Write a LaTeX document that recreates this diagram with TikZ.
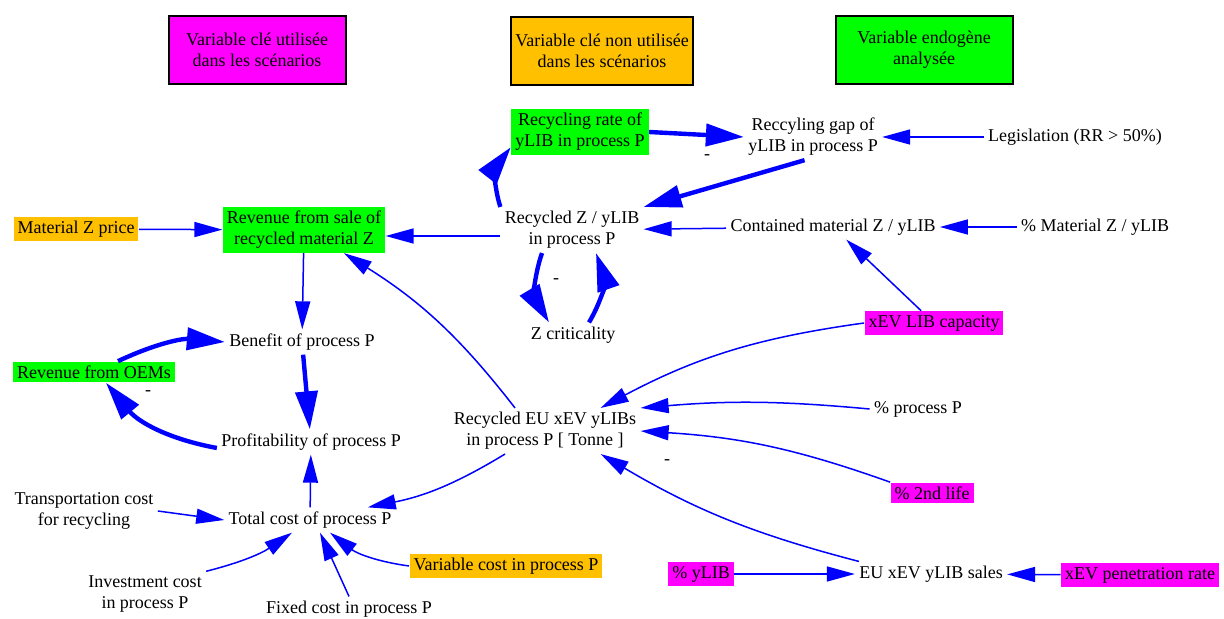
\documentclass[tikz,border=0pt]{standalone}
\usepackage{fontspec}
\setmainfont{Liberation Serif}
\usepackage{tikz}
\usetikzlibrary{arrows.meta}
\definecolor{keymag}{RGB}{255,0,255}
\definecolor{keyorange}{RGB}{255,192,0}
\definecolor{endogreen}{RGB}{0,255,0}
\definecolor{linkblue}{RGB}{0,0,255}

\begin{document}
\begin{tikzpicture}[x=0.5pt, y=-0.5pt,
    var/.style={font=\fontsize{9}{10.5}\selectfont, align=center, inner sep=2pt},
    keyvar/.style={var, fill=keymag},
    unusedvar/.style={var, fill=keyorange},
    endovar/.style={var, fill=endogreen},
    legendbox/.style={var, draw=black, line width=1pt, minimum width=88.5pt, minimum height=34pt},
    sign/.style={font=\fontsize{9}{10.5}\selectfont, inner sep=0pt},
    link/.style={-{Triangle[length=14pt, width=7.5pt]}, linkblue, line width=0.75pt},
    looplink/.style={-{Triangle[length=19pt, width=11pt]}, linkblue, line width=2.2pt}]
    \useasboundingbox (0,0) rectangle (1224,619);

    % Legend
    \node[legendbox, fill=keymag] (keyused) at (257,50) {Variable clé utilisée\\dans les scénarios};
    \node[legendbox, fill=keyorange] (keyunused) at (602,51) {Variable clé non utilisée\\dans les scénarios};
    \node[legendbox, fill=endogreen] (keyendo) at (924,50) {Variable endogène\\analysée};

    % Variables
    \node[endovar] (rate) at (580,132) {Recycling rate of\\yLIB in process P};
    \node[var] (gap) at (813,137) {Reccyling gap of\\yLIB in process P};
    \node[var] (legis) at (1075,137) {Legislation (RR > 50\%)};
    \node[var] (recZ) at (572,230) {Recycled Z / yLIB\\in process P};
    \node[var] (contained) at (833,227) {Contained material Z / yLIB};
    \node[var] (pctMat) at (1095,227) {\% Material Z / yLIB};
    \node[unusedvar] (price) at (76,229) {Material Z price};
    \node[endovar] (revSale) at (304,230) {Revenue from sale of\\recycled material Z};
    \node[var] (zcrit) at (573,335) {Z criticality};
    \node[keyvar] (capacity) at (934,323) {xEV LIB capacity};
    \node[var] (benefit) at (302,342) {Benefit of process P};
    \node[endovar] (oem) at (94,372) {Revenue from OEMs};
    \node[var] (profit) at (311,442) {Profitability of process P};
    \node[var] (recEU) at (545,431) {Recycled EU xEV yLIBs\\in process P [ Tonne ]};
    \node[var] (pctP) at (918,409) {\% process P};
    \node[keyvar] (second) at (932,493) {\% 2nd life};
    \node[var] (trans) at (84,511) {Transportation cost\\for recycling};
    \node[var] (total) at (310,520) {Total cost of process P};
    \node[unusedvar] (varcost) at (506,566) {Variable cost in process P};
    \node[var] (invest) at (145,594) {Investment cost\\in process P};
    \node[var] (fixed) at (349,609) {Fixed cost in process P};
    \node[keyvar] (pctY) at (701,574) {\% yLIB};
    \node[var] (sales) at (931,574) {EU xEV yLIB sales};
    \node[keyvar] (penet) at (1140,575) {xEV penetration rate};

    % Polarity marks
    \node[sign] (sgap) at (707,157) {-};
    \node[sign] (scrit) at (556,281) {-};
    \node[sign] (soem) at (148,393) {-};
    \node[sign] (ssecond) at (667,462) {-};

    % Loops (thick)
    \draw[looplink] (rate.east) -- (gap.west);
    \draw[looplink] (gap.250) -- (recZ.north east);
    \draw[looplink] (recZ.north west) to[bend left=28] ([yshift=4pt]rate.south west);
    \draw[looplink] ([xshift=-15pt]recZ.south) to[bend right=25] ([xshift=-12pt]zcrit.north);
    \draw[looplink] ([xshift=8pt]zcrit.north) to[bend right=25] ([xshift=12pt]recZ.south);
    \draw[looplink] ([xshift=12pt]oem.north) to[bend left=15] (benefit.west);
    \draw[looplink] (benefit) -- (profit);
    \draw[looplink] ([yshift=-3pt]profit.west) to[bend left=20] ([xshift=6pt]oem.south);

    % Links (thin)
    \draw[link] (legis) -- (gap);
    \draw[link] (pctMat) -- (contained);
    \draw[link] (contained) -- (recZ);
    \draw[link] ([yshift=-3pt]recZ.west) -- ([yshift=-3pt]revSale.east);
    \draw[link] (price) -- (revSale);
    \draw[link] (revSale) -- (benefit);
    \draw[link] (capacity) -- (contained);
    \draw[link] (capacity.west) to[bend right=10] ([xshift=-20pt]recEU.north east);
    \draw[link] (pctP.west) to[bend right=5] (recEU.north east);
    \draw[link] (second.north west) to[bend right=8] (recEU.east);
    \draw[link] ([xshift=2pt]sales.north west) to[bend left=8] ([xshift=-20pt]recEU.south east);
    \draw[link] ([xshift=-15pt]recEU.north) to[bend right=10] ([xshift=20pt]revSale.south);
    \draw[link] ([xshift=-20pt]recEU.south) to[bend left=10] ([xshift=-14pt]total.north east);
    \draw[link] (total) -- (profit);
    \draw[link] (trans.east) -- (total.west);
    \draw[link] (invest.north east) to[bend right=10] ([xshift=-9pt]total.south);
    \draw[link] (fixed.north) -- ([xshift=5pt]total.south);
    \draw[link] (varcost.west) to[bend left=15] ([xshift=10pt]total.south);
    \draw[link] (pctY) -- (sales);
    \draw[link] (penet) -- (sales);
\end{tikzpicture}
\end{document}
